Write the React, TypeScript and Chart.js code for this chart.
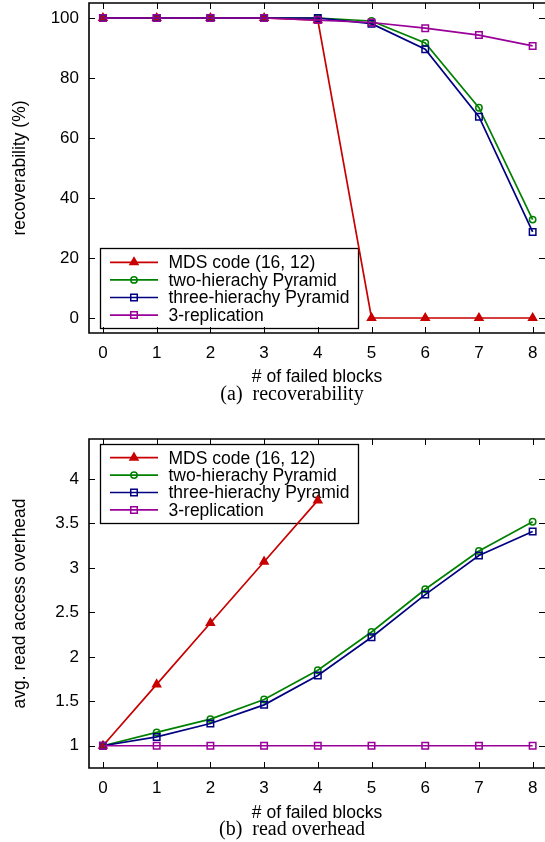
import React, { useEffect, useRef } from "react";
import { Chart, registerables } from "chart.js";

Chart.register(...registerables);

// ---------- data ----------
const failedBlocks = [0, 1, 2, 3, 4, 5, 6, 7, 8];
const seriesNames = [
  "MDS code (16, 12)",
  "two-hierachy Pyramid",
  "three-hierachy Pyramid",
  "3-replication",
];

// (a) recoverability (%)
const recMDS = [100, 100, 100, 100, 99.3, 0, 0, 0, 0];
const recTwo = [100, 100, 100, 100, 100, 99.0, 91.7, 70.1, 32.8];
const recThree = [100, 100, 100, 100, 100, 98.1, 89.6, 67.1, 28.7];
const recRep = [100, 100, 100, 100, 99.3, 98.5, 96.6, 94.3, 90.7];

// (b) avg. read access overhead
const ovMDS = [1, 1.69, 2.38, 3.07, 3.76, null, null, null, null];
const ovTwo = [1, 1.15, 1.3, 1.52, 1.85, 2.28, 2.76, 3.19, 3.52];
const ovThree = [1, 1.1, 1.25, 1.46, 1.79, 2.22, 2.7, 3.14, 3.41];
const ovRep = [1, 1, 1, 1, 1, 1, 1, 1, 1];

const xTickValues = [0, 1, 2, 3, 4, 5, 6, 7, 8];
const yTicksRec = [0, 20, 40, 60, 80, 100];
const yTicksOv = [1, 1.5, 2, 2.5, 3, 3.5, 4];

// ---------- styles ----------
const SANS = "'Liberation Sans', Arial, Helvetica, sans-serif";
const SERIF = "'Liberation Serif', 'Times New Roman', serif";
const seriesStyles = [
  { color: "#c80000", shape: "triangle", radius: 4.6, filled: true, order: 3 },
  { color: "#008000", shape: "circle", radius: 3.2, filled: false, order: 2 },
  { color: "#000080", shape: "rect", radius: 4.6, filled: false, order: 1 },
  { color: "#990099", shape: "rect", radius: 4.6, filled: false, order: 0 },
];

function drawMarker(ctx: CanvasRenderingContext2D, shape: string, x: number, y: number, r: number, color: string, filled: boolean) {
  ctx.save();
  ctx.strokeStyle = color;
  ctx.fillStyle = color;
  ctx.lineWidth = 1.5;
  ctx.beginPath();
  if (shape === "triangle") {
    for (let i = 0; i < 3; i++) {
      const a = (i * 2 * Math.PI) / 3;
      const px = x + Math.sin(a) * r;
      const py = y - Math.cos(a) * r;
      if (i === 0) ctx.moveTo(px, py);
      else ctx.lineTo(px, py);
    }
    ctx.closePath();
  } else if (shape === "circle") {
    ctx.arc(x, y, r, 0, Math.PI * 2);
  } else {
    const s = Math.SQRT1_2 * r;
    ctx.rect(x - s, y - s, 2 * s, 2 * s);
  }
  if (filled) ctx.fill();
  ctx.stroke();
  ctx.restore();
}

type Layout = {
  height: number;
  padTop: number;
  xAxisHeight: number;
  yMin: number;
  yMax: number;
  yTicks: number[];
  yTitle: string;
  xTitleY: number;
  caption: string;
  captionY: number;
  legendBox: { x: number; y: number; w: number; h: number };
  legendRowY: number;
  legendRowStep: number;
};

function makeChart(canvas: HTMLCanvasElement, series: (number | null)[][], L: Layout) {
  const datasets = series.map((vals, i) => {
    const st = seriesStyles[i];
    return {
      label: seriesNames[i],
      data: failedBlocks
        .map((x, k) => ({ x, y: vals[k] }))
        .filter((p) => p.y !== null),
      borderColor: st.color,
      backgroundColor: st.color,
      borderWidth: 1.7,
      pointStyle: st.shape,
      pointRadius: st.radius,
      pointBorderWidth: 1.5,
      pointBorderColor: st.color,
      pointBackgroundColor: st.filled ? st.color : "rgba(0,0,0,0)",
      tension: 0,
      order: st.order,
      clip: 8,
    };
  });

  const framePlugin = {
    id: "frameAndText",
    beforeDatasetsDraw(chart: any) {
      const ctx: CanvasRenderingContext2D = chart.ctx;
      const { left, top, right, bottom } = chart.chartArea;
      const xs = chart.scales.x;
      const ys = chart.scales.y;
      ctx.save();
      // ticks (inward, mirrored)
      ctx.strokeStyle = "#000";
      ctx.lineWidth = 1;
      ctx.beginPath();
      xTickValues.forEach((v) => {
        const px = Math.round(xs.getPixelForValue(v)) + 0.5;
        ctx.moveTo(px, bottom);
        ctx.lineTo(px, bottom - 6);
        ctx.moveTo(px, top);
        ctx.lineTo(px, top + 6);
      });
      L.yTicks.forEach((v) => {
        const py = Math.round(ys.getPixelForValue(v)) + 0.5;
        ctx.moveTo(left, py);
        ctx.lineTo(left + 6, py);
        ctx.moveTo(right, py);
        ctx.lineTo(right - 6, py);
      });
      ctx.stroke();
      // frame
      ctx.lineWidth = 1.6;
      ctx.beginPath();
      ctx.moveTo(right + 2, top);
      ctx.lineTo(left, top);
      ctx.lineTo(left, bottom);
      ctx.lineTo(right + 2, bottom);
      ctx.stroke();

      // legend
      const b = L.legendBox;
      ctx.strokeStyle = "#000";
      ctx.lineWidth = 1.3;
      ctx.strokeRect(b.x + 0.5, b.y + 0.5, b.w, b.h);
      ctx.font = `17.5px ${SANS}`;
      ctx.textBaseline = "middle";
      ctx.textAlign = "left";
      seriesNames.forEach((name, i) => {
        const st = seriesStyles[i];
        const ry = L.legendRowY + i * L.legendRowStep;
        ctx.strokeStyle = st.color;
        ctx.lineWidth = 1.7;
        ctx.beginPath();
        ctx.moveTo(110, ry);
        ctx.lineTo(158, ry);
        ctx.stroke();
        drawMarker(ctx, st.shape, 134, ry, st.radius, st.color, st.filled);
        ctx.fillStyle = "#000";
        ctx.fillText(name, 168.5, ry + 1);
      });
      ctx.restore();
    },
    afterDraw(chart: any) {
      const ctx: CanvasRenderingContext2D = chart.ctx;
      const { top, bottom } = chart.chartArea;
      ctx.save();
      ctx.fillStyle = "#000";
      ctx.textAlign = "center";
      ctx.textBaseline = "middle";
      // y title
      ctx.save();
      ctx.translate(20, (top + bottom) / 2);
      ctx.rotate(-Math.PI / 2);
      ctx.font = `17.5px ${SANS}`;
      ctx.fillText(L.yTitle, 0, 0);
      ctx.restore();
      // x title
      ctx.font = `17.5px ${SANS}`;
      ctx.fillText("# of failed blocks", 317, L.xTitleY);
      // caption
      ctx.font = `20px ${SERIF}`;
      ctx.fillText(L.caption, 292, L.captionY);
      ctx.restore();
    },
  };

  return new Chart(canvas, {
    type: "line",
    data: { datasets },
    options: {
      responsive: false,
      animation: false,
      devicePixelRatio: 1,
      layout: { autoPadding: false, padding: { top: L.padTop, left: 0, right: 0, bottom: 0 } },
      plugins: { legend: { display: false }, tooltip: { enabled: false } },
      elements: { line: { tension: 0 } },
      scales: {
        x: {
          type: "linear",
          min: -0.26,
          max: 8.23,
          grid: { display: false, drawTicks: false },
          border: { display: false },
          ticks: {
            padding: 10,
            color: "#000",
            font: { family: SANS, size: 17 },
            autoSkip: false,
            maxRotation: 0,
            callback: (v: any) => String(v),
          },
          afterBuildTicks: (s: any) => {
            s.ticks = xTickValues.map((v) => ({ value: v }));
          },
          afterFit: (s: any) => {
            s.height = L.xAxisHeight;
            s.paddingLeft = 0;
            s.paddingRight = 0;
          },
        },
        y: {
          type: "linear",
          min: L.yMin,
          max: L.yMax,
          grid: { display: false, drawTicks: false },
          border: { display: false },
          ticks: {
            padding: 10,
            color: "#000",
            font: { family: SANS, size: 17 },
            callback: (v: any) => String(v),
          },
          afterBuildTicks: (s: any) => {
            s.ticks = L.yTicks.map((v) => ({ value: v }));
          },
          afterFit: (s: any) => {
            s.width = 89;
            s.paddingTop = 0;
            s.paddingBottom = 0;
          },
        },
      },
    } as any,
    plugins: [framePlugin],
  });
}

const layoutA: Layout = {
  height: 420,
  padTop: 3,
  xAxisHeight: 87,
  yMin: -5,
  yMax: 105,
  yTicks: yTicksRec,
  yTitle: "recoverability (%)",
  xTitleY: 377,
  caption: "(a)  recoverability",
  captionY: 395,
  legendBox: { x: 100, y: 248, w: 258, h: 80 },
  legendRowY: 262.3,
  legendRowStep: 17.6,
};

const layoutB: Layout = {
  height: 422,
  padTop: 19,
  xAxisHeight: 74,
  yMin: 0.75,
  yMax: 4.45,
  yTicks: yTicksOv,
  yTitle: "avg. read access overhead",
  xTitleY: 393,
  caption: "(b)  read overhead",
  captionY: 409.5,
  legendBox: { x: 100, y: 24, w: 258, h: 79 },
  legendRowY: 37.7,
  legendRowStep: 17.4,
};

export default function App() {
  const refA = useRef<HTMLCanvasElement>(null);
  const refB = useRef<HTMLCanvasElement>(null);

  useEffect(() => {
    const a = makeChart(refA.current!, [recMDS, recTwo, recThree, recRep], layoutA);
    const b = makeChart(refB.current!, [ovMDS, ovTwo, ovThree, ovRep], layoutB);
    return () => {
      a.destroy();
      b.destroy();
    };
  }, []);

  return (
    <div style={{ position: "absolute", left: 0, top: 0, width: 545, height: 842, background: "#fff", overflow: "hidden" }}>
      <canvas ref={refA} width={545} height={420} style={{ display: "block", width: 545, height: 420 }} />
      <canvas ref={refB} width={545} height={422} style={{ display: "block", width: 545, height: 422 }} />
    </div>
  );
}
